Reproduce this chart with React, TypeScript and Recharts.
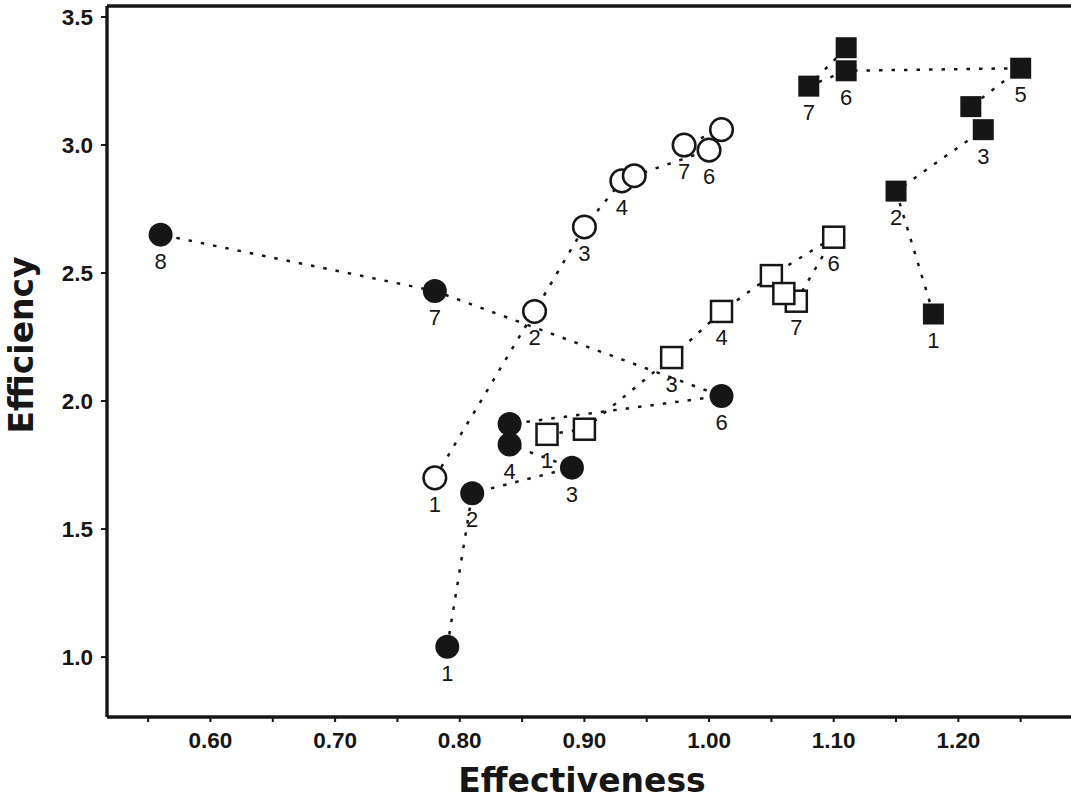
import { ScatterChart, Scatter, XAxis, YAxis, ReferenceLine } from 'recharts';

const filledCircleX = [0.79, 0.81, 0.89, 0.84, 0.84, 1.01, 0.78, 0.56];
const filledCircleY = [1.04, 1.64, 1.74, 1.83, 1.91, 2.02, 2.43, 2.65];
const filledCircleLabels = ['1', '2', '3', '4', '', '6', '7', '8'];

const openCircleX = [0.78, 0.86, 0.9, 0.93, 0.94, 1.0, 0.98, 1.01];
const openCircleY = [1.7, 2.35, 2.68, 2.86, 2.88, 2.98, 3.0, 3.06];
const openCircleLabels = ['1', '2', '3', '4', '', '6', '7', ''];

const openSquareX = [0.87, 0.9, 0.97, 1.01, 1.05, 1.1, 1.07, 1.06];
const openSquareY = [1.87, 1.89, 2.17, 2.35, 2.49, 2.64, 2.39, 2.42];
const openSquareLabels = ['1', '', '3', '4', '', '6', '7', ''];

const filledSquareX = [1.18, 1.15, 1.22, 1.21, 1.25, 1.11, 1.08, 1.11];
const filledSquareY = [2.34, 2.82, 3.06, 3.15, 3.3, 3.29, 3.23, 3.38];
const filledSquareLabels = ['1', '2', '3', '', '5', '6', '7', ''];

const xTicks = [0.55, 0.6, 0.65, 0.7, 0.75, 0.8, 0.85, 0.9, 0.95, 1.0, 1.05, 1.1, 1.15, 1.2, 1.25];
const yTicks = [1.0, 1.5, 2.0, 2.5, 3.0, 3.5];

const X_MIN = 0.517;
const X_MAX = 1.3;
const Y_MIN = 0.766;
const Y_MAX = 3.543;

const INK = '#161616';
const TICK_FONT = '"Liberation Sans", Arial, sans-serif';
const TITLE_FONT = '"DejaVu Sans", sans-serif';

function toPoints(xs: number[], ys: number[], labels: string[]) {
  return xs.map((x, i) => ({ x, y: ys[i], label: labels[i] }));
}

const filledCircles = toPoints(filledCircleX, filledCircleY, filledCircleLabels);
const openCircles = toPoints(openCircleX, openCircleY, openCircleLabels);
const openSquares = toPoints(openSquareX, openSquareY, openSquareLabels);
const filledSquares = toPoints(filledSquareX, filledSquareY, filledSquareLabels);

type Kind = 'filledCircle' | 'openCircle' | 'openSquare' | 'filledSquare';

function makeShape(kind: Kind) {
  return (props: any) => {
    const { cx, cy, payload } = props;
    if (cx == null || cy == null) return <g />;
    let marker;
    if (kind === 'filledCircle') {
      marker = <circle cx={cx} cy={cy} r={12} fill={INK} />;
    } else if (kind === 'openCircle') {
      marker = <circle cx={cx} cy={cy} r={11.3} fill="#fff" stroke={INK} strokeWidth={2.5} />;
    } else if (kind === 'openSquare') {
      marker = (
        <rect x={cx - 10.5} y={cy - 10.5} width={21} height={21} fill="#fff" stroke={INK} strokeWidth={2.5} />
      );
    } else {
      marker = <rect x={cx - 10.5} y={cy - 10.5} width={21} height={21} fill={INK} />;
    }
    return (
      <g>
        {marker}
        {payload?.label ? (
          <text x={cx} y={cy + 34} textAnchor="middle" fontSize={22} fontFamily={TICK_FONT} fill={INK}>
            {payload.label}
          </text>
        ) : null}
      </g>
    );
  };
}

const dashed = { stroke: INK, strokeWidth: 2.5, strokeDasharray: '3.5 9' };
const tickStyle = { fill: INK, fontSize: 22.5, fontWeight: 'bold', fontFamily: TICK_FONT };

export default function App() {
  return (
    <div
      style={{
        position: 'absolute',
        left: 0,
        top: 0,
        width: 1071,
        height: 798,
        overflow: 'hidden',
        background: '#fff',
      }}
    >
      <ScatterChart width={1090} height={798} margin={{ top: 6, right: 7, left: 0, bottom: 0 }}>
        <XAxis
          type="number"
          dataKey="x"
          domain={[X_MIN, X_MAX]}
          allowDataOverflow
          ticks={xTicks}
          interval={0}
          tickFormatter={(v: number) => (Math.round(v * 100) % 10 === 0 ? v.toFixed(2) : '')}
          height={81}
          tickSize={5}
          tickMargin={10}
          axisLine={{ stroke: INK, strokeWidth: 3.4 }}
          tickLine={{ stroke: INK, strokeWidth: 2 }}
          tick={tickStyle}
        />
        <YAxis
          type="number"
          dataKey="y"
          domain={[Y_MIN, Y_MAX]}
          allowDataOverflow
          ticks={yTicks}
          interval={0}
          tickFormatter={(v: number) => v.toFixed(1)}
          width={107}
          tickSize={6}
          tickMargin={8}
          axisLine={{ stroke: INK, strokeWidth: 3.4 }}
          tickLine={{ stroke: INK, strokeWidth: 2 }}
          tick={tickStyle}
        />
        <ReferenceLine y={Y_MAX} stroke={INK} strokeWidth={3.4} />
        <Scatter
          data={filledCircles}
          line={dashed}
          lineType="joint"
          shape={makeShape('filledCircle')}
          isAnimationActive={false}
        />
        <Scatter
          data={openCircles}
          line={dashed}
          lineType="joint"
          shape={makeShape('openCircle')}
          isAnimationActive={false}
        />
        <Scatter
          data={openSquares}
          line={dashed}
          lineType="joint"
          shape={makeShape('openSquare')}
          isAnimationActive={false}
        />
        <Scatter
          data={filledSquares}
          line={dashed}
          lineType="joint"
          shape={makeShape('filledSquare')}
          isAnimationActive={false}
        />
      </ScatterChart>
      <div
        style={{
          position: 'absolute',
          left: 582,
          top: 780,
          transform: 'translate(-50%, -50%)',
          fontFamily: TITLE_FONT,
          fontWeight: 'bold',
          fontSize: 33,
          lineHeight: 1,
          whiteSpace: 'nowrap',
          color: INK,
        }}
      >
        Effectiveness
      </div>
      <div
        style={{
          position: 'absolute',
          left: 21,
          top: 345,
          transform: 'translate(-50%, -50%) rotate(-90deg)',
          fontFamily: TITLE_FONT,
          fontWeight: 'bold',
          fontSize: 33,
          lineHeight: 1,
          whiteSpace: 'nowrap',
          color: INK,
        }}
      >
        Efficiency
      </div>
    </div>
  );
}
